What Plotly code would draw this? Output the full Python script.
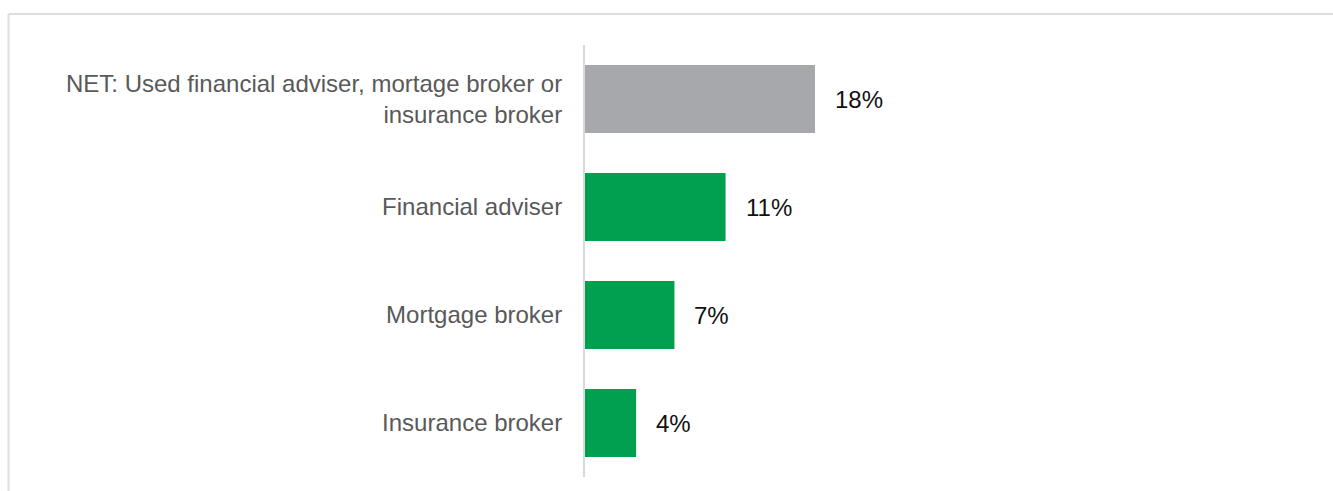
import plotly.graph_objects as go

# survey shares, top to bottom
categories = [
    "NET: Used financial adviser, mortage broker or<br>insurance broker",
    "Financial adviser",
    "Mortgage broker",
    "Insurance broker",
]
values = [18, 11, 7, 4]
value_labels = ["18%", "11%", "7%", "4%"]
bar_colors = ["#A7A8AB", "#00A04F", "#00A04F", "#00A04F"]

W, H = 1333, 491
L, R, T, B = 585, 48, 45, 14
pw, ph = W - L - R, H - T - B

fig = go.Figure()
fig.add_trace(go.Bar(
    x=values, y=categories, orientation="h",
    marker=dict(color=bar_colors, line=dict(width=0)),
    hoverinfo="skip",
))

# value labels sit a bit to the right of each bar
for v, c, lab in zip(values, categories, value_labels):
    fig.add_annotation(x=v, y=c, text=lab, showarrow=False,
                       xanchor="left", xshift=18,
                       font=dict(size=24, color="#111111"))

# light frame: only top and left edges show in the crop
fx0 = (8.5 - L) / pw
fy1 = (H - B - 14) / ph
fx1 = (W - L) / pw
fy0 = -(B) / ph
fig.add_shape(type="line", xref="paper", yref="paper",
              x0=fx0, y0=fy1, x1=fx1, y1=fy1,
              line=dict(color="#DEDEDE", width=2))
fig.add_shape(type="line", xref="paper", yref="paper",
              x0=fx0, y0=fy0, x1=fx0, y1=fy1,
              line=dict(color="#DEDEDE", width=2))

fig.update_layout(
    width=W, height=H,
    margin=dict(l=L, r=R, t=T, b=B, pad=0),
    paper_bgcolor="white", plot_bgcolor="white",
    font=dict(family="Liberation Sans, Arial, sans-serif", size=24, color="#595959"),
    bargap=0.37,
    showlegend=False,
    xaxis=dict(range=[0, pw / (230 / 18)], visible=False, fixedrange=True),
    yaxis=dict(autorange="reversed", showline=True, linecolor="#D9D9D9", linewidth=2,
               showgrid=False, zeroline=False, ticks="", ticklabelstandoff=16,
               tickfont=dict(size=24, color="#595959"), fixedrange=True),
)

# drop the browser's default body margin so the figure sits at 0,0
fig.write_html("out.html", config={"displayModeBar": False},
               post_script="document.body.style.margin='0';document.body.style.overflow='hidden';")
